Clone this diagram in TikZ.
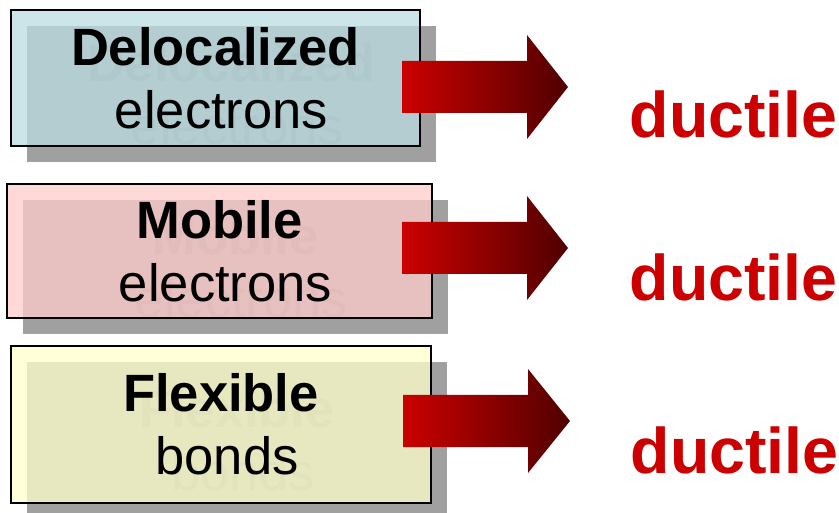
\documentclass[tikz,border=0pt]{standalone}
\usepackage{fontspec}
\setmainfont{Liberation Sans}
\definecolor{shadowgray}{RGB}{160,160,160}
\definecolor{ghostgray}{RGB}{140,140,140}
\definecolor{cyanbox}{RGB}{187,221,225}
\definecolor{pinkbox}{RGB}{255,204,204}
\definecolor{creambox}{RGB}{255,255,204}
\definecolor{ductred}{RGB}{204,0,0}
\definecolor{darkred}{RGB}{80,0,0}
\newcommand{\secondline}[1]{\hspace*{12pt}#1}
\tikzset{
  boxfont/.style={font={\fontsize{52.5}{63}\selectfont}, align=center},
  shadowbox/.style={boxfont, rectangle, inner sep=0pt, fill=shadowgray, text=ghostgray},
  mainbox/.style={boxfont, rectangle, inner sep=0pt, draw=black, line width=1.5pt,
                  fill opacity=0.75, text opacity=1, text=black},
  blockarrow/.style={left color=ductred, right color=darkred, draw=none},
  result/.style={font={\fontsize{64.5}{64.5}\selectfont\bfseries}, text=ductred,
                 inner sep=0pt, anchor=base west}
}
\begin{document}
\begin{tikzpicture}[x=1pt, y=-1pt]
\useasboundingbox (0,0) rectangle (839,513);
\fill[white] (0,0) rectangle (839,513);

% drop shadows of the three boxes
\node[shadowbox, minimum width=409pt, minimum height=136pt] (s1) at (231.5,94)
  {\textbf{Delocalized}\\\secondline{electrons}};
\node[shadowbox, minimum width=425pt, minimum height=134pt] (s2) at (235.5,267)
  {\textbf{Mobile}\\\secondline{electrons}};
\node[shadowbox, minimum width=420pt, minimum height=157pt] (s3) at (237,440.5)
  {\textbf{Flexible}\\\secondline{bonds}};

% translucent boxes
\node[mainbox, fill=cyanbox, minimum width=409pt, minimum height=136pt] (b1) at (215.5,78)
  {\textbf{Delocalized}\\\secondline{electrons}};
\node[mainbox, fill=pinkbox, minimum width=425pt, minimum height=134pt] (b2) at (219.5,251)
  {\textbf{Mobile}\\\secondline{electrons}};
\node[mainbox, fill=creambox, minimum width=420pt, minimum height=157pt] (b3) at (221,424.5)
  {\textbf{Flexible}\\\secondline{bonds}};

% block arrows
\shade[blockarrow] (402,61) -- (527,61) -- (527,35) -- (568,87) -- (527,139)
  -- (527,113) -- (402,113) -- cycle;
\shade[blockarrow] (402,222) -- (527,222) -- (527,196) -- (568,248) -- (527,300)
  -- (527,274) -- (402,274) -- cycle;
\shade[blockarrow] (403,395) -- (528,395) -- (528,369) -- (570,421) -- (528,473)
  -- (528,447) -- (403,447) -- cycle;

% results
\node[result] (d1) at (629.5,138) {ductile};
\node[result] (d2) at (629.5,301) {ductile};
\node[result] (d3) at (630.5,473) {ductile};
\end{tikzpicture}
\end{document}
